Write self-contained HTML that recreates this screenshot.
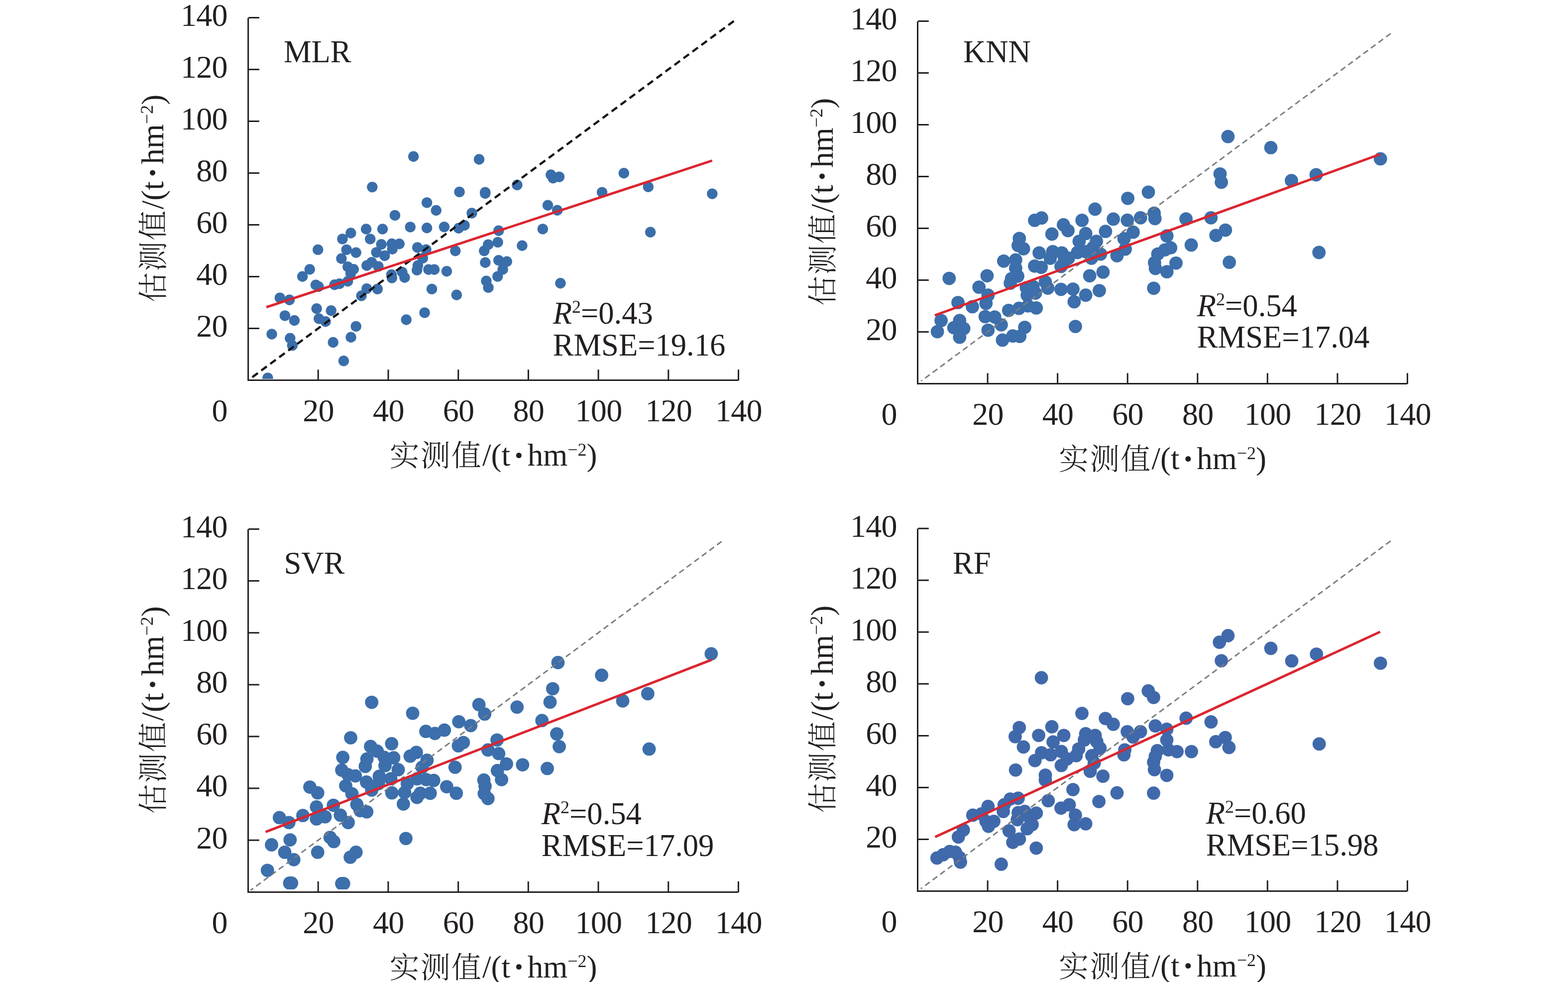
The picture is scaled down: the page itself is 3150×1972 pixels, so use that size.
<!DOCTYPE html>
<html lang="zh-CN">
<head>
<meta charset="utf-8">
<title>估测值与实测值散点图 MLR KNN SVR RF</title>
<style>
html,body{margin:0;padding:0;background:#fff;}
body{width:3150px;height:1972px;}
svg{display:block;}
text{font-family:"Liberation Serif","Noto Serif CJK SC",serif;font-size:63px;fill:#231f20;}
.tk{font-size:64px;letter-spacing:-0.7px;}
.st{font-size:62.6px;}
.cj{font-family:"Noto Serif CJK SC","Liberation Serif",serif;font-weight:300;font-size:60px;letter-spacing:2.2px;}
.ax{stroke:#231f20;stroke-width:3;fill:none;stroke-linecap:butt;stroke-linejoin:miter;}
.red{stroke:#db2530;stroke-width:4.9;fill:none;stroke-linecap:butt;}
.sup{font-size:36px;}
.it{font-style:italic;}
.bu{font-weight:bold;font-size:68px;}
</style>
</head>
<body>
<svg xmlns="http://www.w3.org/2000/svg" width="3150" height="1972" viewBox="0 0 3150 1972">
<rect x="0" y="0" width="3150" height="1972" fill="#ffffff"/>
<g id="panel-mlr">
<clipPath id="clip-mlr"><rect x="498.6" y="5.4" width="1024.9" height="755.5"/></clipPath>
<g fill="#3a6eaa" clip-path="url(#clip-mlr)">
<circle cx="830.6" cy="314.3" r="10.7"/>
<circle cx="747.8" cy="375.6" r="10.7"/>
<circle cx="857.6" cy="406.9" r="10.7"/>
<circle cx="876.2" cy="422.5" r="10.7"/>
<circle cx="793.4" cy="432.4" r="10.7"/>
<circle cx="824.2" cy="455.9" r="10.7"/>
<circle cx="857.6" cy="457.7" r="10.7"/>
<circle cx="892.4" cy="455.6" r="10.7"/>
<circle cx="735.6" cy="460" r="10.7"/>
<circle cx="768.5" cy="460" r="10.7"/>
<circle cx="704.8" cy="468" r="10.7"/>
<circle cx="687.9" cy="479.9" r="10.7"/>
<circle cx="743.7" cy="479.9" r="10.7"/>
<circle cx="766.1" cy="490.8" r="10.7"/>
<circle cx="787.3" cy="489.5" r="10.7"/>
<circle cx="802.2" cy="489.8" r="10.7"/>
<circle cx="788.1" cy="500.3" r="10.7"/>
<circle cx="756.1" cy="506.9" r="10.7"/>
<circle cx="772.7" cy="513.5" r="10.7"/>
<circle cx="838.6" cy="497" r="10.7"/>
<circle cx="856" cy="501.1" r="10.7"/>
<circle cx="849.3" cy="518.5" r="10.7"/>
<circle cx="638.7" cy="501.4" r="10.7"/>
<circle cx="696.2" cy="501.4" r="10.7"/>
<circle cx="715.2" cy="507.2" r="10.7"/>
<circle cx="685.9" cy="519.3" r="10.7"/>
<circle cx="537.9" cy="758.9" r="10.7"/>
<circle cx="546" cy="671" r="10.7"/>
<circle cx="582.8" cy="679.3" r="10.7"/>
<circle cx="587.3" cy="693.8" r="10.7"/>
<circle cx="572.4" cy="633.9" r="10.7"/>
<circle cx="591.4" cy="643.5" r="10.7"/>
<circle cx="562.3" cy="598.1" r="10.7"/>
<circle cx="581.5" cy="602.3" r="10.7"/>
<circle cx="607.6" cy="555.3" r="10.7"/>
<circle cx="622.2" cy="541" r="10.7"/>
<circle cx="636.1" cy="619.8" r="10.7"/>
<circle cx="665.2" cy="623.8" r="10.7"/>
<circle cx="640.7" cy="640" r="10.7"/>
<circle cx="654" cy="645.8" r="10.7"/>
<circle cx="634.4" cy="572.2" r="10.7"/>
<circle cx="639.9" cy="575.5" r="10.7"/>
<circle cx="672.2" cy="571.7" r="10.7"/>
<circle cx="682.1" cy="569.7" r="10.7"/>
<circle cx="698.7" cy="564.7" r="10.7"/>
<circle cx="669.2" cy="687.5" r="10.7"/>
<circle cx="705" cy="677.3" r="10.7"/>
<circle cx="715.2" cy="655.4" r="10.7"/>
<circle cx="690.4" cy="724.8" r="10.7"/>
<circle cx="726" cy="594" r="10.7"/>
<circle cx="736.8" cy="579.6" r="10.7"/>
<circle cx="758.3" cy="580.4" r="10.7"/>
<circle cx="816.2" cy="642" r="10.7"/>
<circle cx="853" cy="627.9" r="10.7"/>
<circle cx="867.5" cy="580.4" r="10.7"/>
<circle cx="698.7" cy="535.7" r="10.7"/>
<circle cx="710.3" cy="540.7" r="10.7"/>
<circle cx="704.5" cy="549" r="10.7"/>
<circle cx="736.8" cy="533.2" r="10.7"/>
<circle cx="746.7" cy="526.6" r="10.7"/>
<circle cx="759.9" cy="534.9" r="10.7"/>
<circle cx="786.4" cy="551.5" r="10.7"/>
<circle cx="787.3" cy="558.1" r="10.7"/>
<circle cx="807.9" cy="546.5" r="10.7"/>
<circle cx="812.9" cy="557.3" r="10.7"/>
<circle cx="839.4" cy="533.2" r="10.7"/>
<circle cx="837.7" cy="542.4" r="10.7"/>
<circle cx="860.9" cy="541.2" r="10.7"/>
<circle cx="872.5" cy="541.2" r="10.7"/>
<circle cx="897.4" cy="544.8" r="10.7"/>
<circle cx="921.4" cy="458.2" r="10.7"/>
<circle cx="933" cy="452.4" r="10.7"/>
<circle cx="1001.7" cy="463.2" r="10.7"/>
<circle cx="1090.3" cy="459.9" r="10.7"/>
<circle cx="1000" cy="486.4" r="10.7"/>
<circle cx="980.7" cy="491.3" r="10.7"/>
<circle cx="972.7" cy="503.7" r="10.7"/>
<circle cx="1048.9" cy="493.3" r="10.7"/>
<circle cx="914.8" cy="503.7" r="10.7"/>
<circle cx="974.9" cy="527.3" r="10.7"/>
<circle cx="1001.7" cy="522.8" r="10.7"/>
<circle cx="1018.2" cy="525.3" r="10.7"/>
<circle cx="1010" cy="541" r="10.7"/>
<circle cx="999.7" cy="555.1" r="10.7"/>
<circle cx="976.9" cy="564.2" r="10.7"/>
<circle cx="981" cy="577.4" r="10.7"/>
<circle cx="917.3" cy="592.3" r="10.7"/>
<circle cx="1125.9" cy="568.8" r="10.7"/>
<circle cx="962.5" cy="320" r="10.7"/>
<circle cx="923" cy="385.4" r="10.7"/>
<circle cx="974.7" cy="386.1" r="10.7"/>
<circle cx="974.7" cy="388.4" r="10.7"/>
<circle cx="1038.9" cy="371.4" r="10.7"/>
<circle cx="1106.8" cy="351" r="10.7"/>
<circle cx="1111" cy="357.6" r="10.7"/>
<circle cx="1123.4" cy="355.1" r="10.7"/>
<circle cx="1253.3" cy="347.7" r="10.7"/>
<circle cx="1209.5" cy="386.1" r="10.7"/>
<circle cx="1100.5" cy="412.3" r="10.7"/>
<circle cx="1119.6" cy="422.2" r="10.7"/>
<circle cx="947.9" cy="428" r="10.7"/>
<circle cx="1302.3" cy="375.2" r="10.7"/>
<circle cx="1430.8" cy="389.1" r="10.7"/>
<circle cx="1306.6" cy="466.2" r="10.7"/>
</g>
<line x1="1474.3" y1="42.2" x2="506.3" y2="757.8" stroke="#161415" stroke-width="4.4" stroke-dasharray="13.8 8.64"/>
<line class="red" x1="535.1" y1="616.8" x2="1430.7" y2="322.5"/>
<path class="ax" d="M498.6 35.9V763.5H1483M639.2 763.9v-21.7M499.1 659.5h21.8M780 763.9v-21.7M499.1 555.5h21.8M920.7 763.9v-21.7M499.1 451.5h21.8M1061.4 763.9v-21.7M499.1 347.4h21.8M1202.1 763.9v-21.7M499.1 243.4h21.8M1342.8 763.9v-21.7M499.1 139.4h21.8M1483.5 763.9v-21.7M499.1 35.4h21.8"/>
<text class="tk" x="456.9" y="675.8" text-anchor="end">20</text>
<text class="tk" x="639.6" y="846.1" text-anchor="middle">20</text>
<text class="tk" x="456.9" y="571.8" text-anchor="end">40</text>
<text class="tk" x="780.4" y="846.1" text-anchor="middle">40</text>
<text class="tk" x="456.9" y="467.8" text-anchor="end">60</text>
<text class="tk" x="921.1" y="846.1" text-anchor="middle">60</text>
<text class="tk" x="456.9" y="363.7" text-anchor="end">80</text>
<text class="tk" x="1061.8" y="846.1" text-anchor="middle">80</text>
<text class="tk" x="456.9" y="259.7" text-anchor="end">100</text>
<text class="tk" x="1202.5" y="846.1" text-anchor="middle">100</text>
<text class="tk" x="456.9" y="155.7" text-anchor="end">120</text>
<text class="tk" x="1343.2" y="846.1" text-anchor="middle">120</text>
<text class="tk" x="456.9" y="51.7" text-anchor="end">140</text>
<text class="tk" x="1483.9" y="846.1" text-anchor="middle">140</text>
<text class="tk" x="456.9" y="846.1" text-anchor="end">0</text>
<text x="991" y="936" text-anchor="middle"><tspan class="cj">实测值</tspan><tspan dy="-1">/(t</tspan><tspan class="bu" dx="6" dy="1.5">·</tspan><tspan dx="6" dy="-1.5">hm</tspan><tspan class="sup" dy="-20.5">−2</tspan><tspan dy="20.5">)</tspan></text>
<text transform="translate(328.6 398.4) rotate(-90)" text-anchor="middle"><tspan class="cj">估测值</tspan><tspan dy="-1">/(t</tspan><tspan class="bu" dx="6" dy="1.5">·</tspan><tspan dx="6" dy="-1.5">hm</tspan><tspan class="sup" dy="-20.5">−2</tspan><tspan dy="20.5">)</tspan></text>
<text class="st" x="569.9" y="124.9">MLR</text>
<text class="st" x="1110.7" y="649.9"><tspan class="it">R</tspan><tspan class="sup" dy="-22">2</tspan><tspan dy="22">=0.43</tspan></text>
<text class="st" x="1110.7" y="713.8">RMSE=19.16</text>
</g>
<g id="panel-knn">
<clipPath id="clip-knn"><rect x="1843.5" y="12.4" width="1023.9" height="755.5"/></clipPath>
<g fill="#3c6fab" clip-path="url(#clip-knn)">
<circle cx="1906.8" cy="559.1" r="13.4"/>
<circle cx="1883.1" cy="666.1" r="13.4"/>
<circle cx="1890.6" cy="643.7" r="13.4"/>
<circle cx="1924.5" cy="607.6" r="13.4"/>
<circle cx="1927.8" cy="643.7" r="13.4"/>
<circle cx="1916.2" cy="658.1" r="13.4"/>
<circle cx="1936.1" cy="659.8" r="13.4"/>
<circle cx="1927.8" cy="677.2" r="13.4"/>
<circle cx="1953.5" cy="615.9" r="13.4"/>
<circle cx="1966.7" cy="576.7" r="13.4"/>
<circle cx="1982.9" cy="553.8" r="13.4"/>
<circle cx="1984.9" cy="592.7" r="13.4"/>
<circle cx="1980.8" cy="609.3" r="13.4"/>
<circle cx="1979.1" cy="635.8" r="13.4"/>
<circle cx="1998.2" cy="636.6" r="13.4"/>
<circle cx="1984.9" cy="663.1" r="13.4"/>
<circle cx="2011.4" cy="652.3" r="13.4"/>
<circle cx="2013.9" cy="682.9" r="13.4"/>
<circle cx="2034.6" cy="674.7" r="13.4"/>
<circle cx="2048.7" cy="675.5" r="13.4"/>
<circle cx="2058.6" cy="657.3" r="13.4"/>
<circle cx="2026.3" cy="623.3" r="13.4"/>
<circle cx="2047" cy="619.2" r="13.4"/>
<circle cx="2065.2" cy="614.2" r="13.4"/>
<circle cx="2081.8" cy="618.4" r="13.4"/>
<circle cx="2032.1" cy="559.6" r="13.4"/>
<circle cx="2044.5" cy="554.6" r="13.4"/>
<circle cx="2029.6" cy="568.7" r="13.4"/>
<circle cx="2061.9" cy="577.8" r="13.4"/>
<circle cx="2075.2" cy="575.3" r="13.4"/>
<circle cx="2063.6" cy="592.7" r="13.4"/>
<circle cx="2080.1" cy="588.6" r="13.4"/>
<circle cx="2070.2" cy="586.1" r="13.4"/>
<circle cx="2100" cy="566.2" r="13.4"/>
<circle cx="2105" cy="578.6" r="13.4"/>
<circle cx="2131.5" cy="581.1" r="13.4"/>
<circle cx="2155.5" cy="580.6" r="13.4"/>
<circle cx="2157.9" cy="606" r="13.4"/>
<circle cx="2181.1" cy="592.7" r="13.4"/>
<circle cx="2208.4" cy="583.6" r="13.4"/>
<circle cx="2189.1" cy="553.8" r="13.4"/>
<circle cx="2215.9" cy="546.4" r="13.4"/>
<circle cx="2160.4" cy="655.6" r="13.4"/>
<circle cx="2138.1" cy="524.8" r="13.4"/>
<circle cx="2199.8" cy="420" r="13.4"/>
<circle cx="2078.5" cy="442.4" r="13.4"/>
<circle cx="2092.5" cy="437.7" r="13.4"/>
<circle cx="2173.7" cy="442.4" r="13.4"/>
<circle cx="2236.6" cy="439.9" r="13.4"/>
<circle cx="2136.4" cy="451.5" r="13.4"/>
<circle cx="2145.5" cy="463.1" r="13.4"/>
<circle cx="2113.2" cy="470" r="13.4"/>
<circle cx="2181.1" cy="468.9" r="13.4"/>
<circle cx="2220.9" cy="464.7" r="13.4"/>
<circle cx="2047.8" cy="478.8" r="13.4"/>
<circle cx="2045.4" cy="492.9" r="13.4"/>
<circle cx="2056.1" cy="499.5" r="13.4"/>
<circle cx="2167.9" cy="484.6" r="13.4"/>
<circle cx="2202.6" cy="484.6" r="13.4"/>
<circle cx="2196" cy="497" r="13.4"/>
<circle cx="2087.6" cy="507.8" r="13.4"/>
<circle cx="2114.9" cy="505.3" r="13.4"/>
<circle cx="2133.1" cy="507.8" r="13.4"/>
<circle cx="2164.6" cy="507" r="13.4"/>
<circle cx="2181.1" cy="505.3" r="13.4"/>
<circle cx="2109.9" cy="518.5" r="13.4"/>
<circle cx="2146.4" cy="518.5" r="13.4"/>
<circle cx="2210.9" cy="510.3" r="13.4"/>
<circle cx="2192.7" cy="518.5" r="13.4"/>
<circle cx="2016.4" cy="524.3" r="13.4"/>
<circle cx="2040.4" cy="521.9" r="13.4"/>
<circle cx="2040.4" cy="538.4" r="13.4"/>
<circle cx="2078.5" cy="534.3" r="13.4"/>
<circle cx="2091.7" cy="536.8" r="13.4"/>
<circle cx="2131.5" cy="535.1" r="13.4"/>
<circle cx="2244" cy="513.6" r="13.4"/>
<circle cx="2265.6" cy="398.3" r="13.4"/>
<circle cx="2264.8" cy="442.2" r="13.4"/>
<circle cx="2291.3" cy="437.3" r="13.4"/>
<circle cx="2318.6" cy="428.1" r="13.4"/>
<circle cx="2320.2" cy="438.9" r="13.4"/>
<circle cx="2382.6" cy="439.7" r="13.4"/>
<circle cx="2432.8" cy="437.3" r="13.4"/>
<circle cx="2276.4" cy="466.2" r="13.4"/>
<circle cx="2258.1" cy="479.5" r="13.4"/>
<circle cx="2461.8" cy="462.1" r="13.4"/>
<circle cx="2442.7" cy="472.8" r="13.4"/>
<circle cx="2344.2" cy="473.7" r="13.4"/>
<circle cx="2393.1" cy="491.9" r="13.4"/>
<circle cx="2260.6" cy="500.2" r="13.4"/>
<circle cx="2351.7" cy="497.7" r="13.4"/>
<circle cx="2340.1" cy="501.8" r="13.4"/>
<circle cx="2326" cy="510.1" r="13.4"/>
<circle cx="2319.4" cy="527.5" r="13.4"/>
<circle cx="2321.1" cy="539.1" r="13.4"/>
<circle cx="2362.5" cy="528.3" r="13.4"/>
<circle cx="2344.2" cy="545.7" r="13.4"/>
<circle cx="2317.7" cy="578.8" r="13.4"/>
<circle cx="2469.6" cy="526.7" r="13.4"/>
<circle cx="2466.9" cy="274.2" r="13.4"/>
<circle cx="2553" cy="296.4" r="13.4"/>
<circle cx="2773.2" cy="318.9" r="13.4"/>
<circle cx="2644" cy="351" r="13.4"/>
<circle cx="2594.4" cy="362.6" r="13.4"/>
<circle cx="2451" cy="349.3" r="13.4"/>
<circle cx="2453.6" cy="365.9" r="13.4"/>
<circle cx="2307" cy="385.8" r="13.4"/>
<circle cx="2649.7" cy="507" r="13.4"/>
</g>
<line x1="2793.7" y1="67.3" x2="1850.5" y2="765.2" stroke="#7a7c80" stroke-width="2.9" stroke-dasharray="11.5 7.384"/>
<line class="red" x1="1877.9" y1="633.2" x2="2772.6" y2="309.7"/>
<path class="ax" d="M1843.5 42.9V770.5H2827M1984.1 770.9v-21.7M1844 666.4h21.8M2124.6 770.9v-21.7M1844 562.4h21.8M2265.2 770.9v-21.7M1844 458.4h21.8M2405.8 770.9v-21.7M1844 354.4h21.8M2546.3 770.9v-21.7M1844 250.4h21.8M2686.9 770.9v-21.7M1844 146.4h21.8M2827.4 770.9v-21.7M1844 42.4h21.8"/>
<text class="tk" x="1801.9" y="682.7" text-anchor="end">20</text>
<text class="tk" x="1984.5" y="853.1" text-anchor="middle">20</text>
<text class="tk" x="1801.9" y="578.7" text-anchor="end">40</text>
<text class="tk" x="2125" y="853.1" text-anchor="middle">40</text>
<text class="tk" x="1801.9" y="474.7" text-anchor="end">60</text>
<text class="tk" x="2265.6" y="853.1" text-anchor="middle">60</text>
<text class="tk" x="1801.9" y="370.7" text-anchor="end">80</text>
<text class="tk" x="2406.2" y="853.1" text-anchor="middle">80</text>
<text class="tk" x="1801.9" y="266.7" text-anchor="end">100</text>
<text class="tk" x="2546.7" y="853.1" text-anchor="middle">100</text>
<text class="tk" x="1801.9" y="162.7" text-anchor="end">120</text>
<text class="tk" x="2687.3" y="853.1" text-anchor="middle">120</text>
<text class="tk" x="1801.9" y="58.7" text-anchor="end">140</text>
<text class="tk" x="2827.8" y="853.1" text-anchor="middle">140</text>
<text class="tk" x="1801.9" y="853.1" text-anchor="end">0</text>
<text x="2335.5" y="943" text-anchor="middle"><tspan class="cj">实测值</tspan><tspan dy="-1">/(t</tspan><tspan class="bu" dx="6" dy="1.5">·</tspan><tspan dx="6" dy="-1.5">hm</tspan><tspan class="sup" dy="-20.5">−2</tspan><tspan dy="20.5">)</tspan></text>
<text transform="translate(1673.5 405.4) rotate(-90)" text-anchor="middle"><tspan class="cj">估测值</tspan><tspan dy="-1">/(t</tspan><tspan class="bu" dx="6" dy="1.5">·</tspan><tspan dx="6" dy="-1.5">hm</tspan><tspan class="sup" dy="-20.5">−2</tspan><tspan dy="20.5">)</tspan></text>
<text class="st" x="1935" y="124.9">KNN</text>
<text class="st" x="2404.8" y="634.9"><tspan class="it">R</tspan><tspan class="sup" dy="-22">2</tspan><tspan dy="22">=0.54</tspan></text>
<text class="st" x="2404.8" y="698.3">RMSE=17.04</text>
</g>
<g id="panel-svr">
<clipPath id="clip-svr"><rect x="498.5" y="1032.5" width="1024.9" height="753.6"/></clipPath>
<g fill="#3c6fab" clip-path="url(#clip-svr)">
<circle cx="581.9" cy="1773.4" r="13.4"/>
<circle cx="585.7" cy="1773.4" r="13.4"/>
<circle cx="686.5" cy="1774.4" r="13.4"/>
<circle cx="690.3" cy="1774.4" r="13.4"/>
<circle cx="537.3" cy="1747.8" r="13.4"/>
<circle cx="545.5" cy="1696.5" r="13.4"/>
<circle cx="582.8" cy="1686.6" r="13.4"/>
<circle cx="572" cy="1711.4" r="13.4"/>
<circle cx="590.2" cy="1726.3" r="13.4"/>
<circle cx="638.2" cy="1711.4" r="13.4"/>
<circle cx="663.1" cy="1681.6" r="13.4"/>
<circle cx="670.5" cy="1689.9" r="13.4"/>
<circle cx="703.6" cy="1721.4" r="13.4"/>
<circle cx="715.2" cy="1711.4" r="13.4"/>
<circle cx="815.4" cy="1683.8" r="13.4"/>
<circle cx="561.3" cy="1641.9" r="13.4"/>
<circle cx="580.3" cy="1651.8" r="13.4"/>
<circle cx="608.4" cy="1637.7" r="13.4"/>
<circle cx="622.5" cy="1580.6" r="13.4"/>
<circle cx="638.2" cy="1592.2" r="13.4"/>
<circle cx="635.8" cy="1620.4" r="13.4"/>
<circle cx="635.8" cy="1644.4" r="13.4"/>
<circle cx="653.1" cy="1640.2" r="13.4"/>
<circle cx="669.7" cy="1617.1" r="13.4"/>
<circle cx="683.8" cy="1636.9" r="13.4"/>
<circle cx="699.5" cy="1651.8" r="13.4"/>
<circle cx="716.9" cy="1615.4" r="13.4"/>
<circle cx="723.5" cy="1627.8" r="13.4"/>
<circle cx="736.8" cy="1630.3" r="13.4"/>
<circle cx="810.4" cy="1614.6" r="13.4"/>
<circle cx="787.3" cy="1592.2" r="13.4"/>
<circle cx="707" cy="1593.9" r="13.4"/>
<circle cx="694.5" cy="1578.1" r="13.4"/>
<circle cx="746.7" cy="1586.4" r="13.4"/>
<circle cx="837.7" cy="1601.3" r="13.4"/>
<circle cx="844.4" cy="1593" r="13.4"/>
<circle cx="864.2" cy="1593" r="13.4"/>
<circle cx="812.9" cy="1591.4" r="13.4"/>
<circle cx="897.4" cy="1579.8" r="13.4"/>
<circle cx="746.7" cy="1410.3" r="13.4"/>
<circle cx="829" cy="1432.3" r="13.4"/>
<circle cx="921.7" cy="1449.3" r="13.4"/>
<circle cx="945.7" cy="1457.1" r="13.4"/>
<circle cx="855.5" cy="1468.7" r="13.4"/>
<circle cx="873.7" cy="1472.8" r="13.4"/>
<circle cx="892.7" cy="1466.2" r="13.4"/>
<circle cx="704.5" cy="1481.6" r="13.4"/>
<circle cx="786.8" cy="1493.5" r="13.4"/>
<circle cx="930.8" cy="1491.1" r="13.4"/>
<circle cx="920.9" cy="1497.7" r="13.4"/>
<circle cx="744.5" cy="1499" r="13.4"/>
<circle cx="757.8" cy="1508.4" r="13.4"/>
<circle cx="836.4" cy="1510.9" r="13.4"/>
<circle cx="824" cy="1518.4" r="13.4"/>
<circle cx="688.7" cy="1520.9" r="13.4"/>
<circle cx="737.1" cy="1524.2" r="13.4"/>
<circle cx="771.9" cy="1520.9" r="13.4"/>
<circle cx="790.9" cy="1521.7" r="13.4"/>
<circle cx="857.9" cy="1526.7" r="13.4"/>
<circle cx="733.8" cy="1539.1" r="13.4"/>
<circle cx="773.5" cy="1537.4" r="13.4"/>
<circle cx="800" cy="1545.7" r="13.4"/>
<circle cx="848" cy="1540.7" r="13.4"/>
<circle cx="914.2" cy="1540.7" r="13.4"/>
<circle cx="686.6" cy="1546.5" r="13.4"/>
<circle cx="699" cy="1555.6" r="13.4"/>
<circle cx="713.9" cy="1558.1" r="13.4"/>
<circle cx="761.9" cy="1558.9" r="13.4"/>
<circle cx="785.1" cy="1563.9" r="13.4"/>
<circle cx="736.3" cy="1570.5" r="13.4"/>
<circle cx="760.3" cy="1573.8" r="13.4"/>
<circle cx="838.1" cy="1563.9" r="13.4"/>
<circle cx="856.3" cy="1565.6" r="13.4"/>
<circle cx="871.2" cy="1567.2" r="13.4"/>
<circle cx="818.2" cy="1573.8" r="13.4"/>
<circle cx="916.7" cy="1592.9" r="13.4"/>
<circle cx="962.1" cy="1414.9" r="13.4"/>
<circle cx="973.7" cy="1433.9" r="13.4"/>
<circle cx="1038.7" cy="1419.9" r="13.4"/>
<circle cx="1105" cy="1409.9" r="13.4"/>
<circle cx="1251" cy="1407.5" r="13.4"/>
<circle cx="1088.7" cy="1446.9" r="13.4"/>
<circle cx="1118.5" cy="1473.7" r="13.4"/>
<circle cx="1123.5" cy="1499.3" r="13.4"/>
<circle cx="998.5" cy="1486.1" r="13.4"/>
<circle cx="980.3" cy="1506" r="13.4"/>
<circle cx="1001.8" cy="1513.4" r="13.4"/>
<circle cx="1017.5" cy="1534.1" r="13.4"/>
<circle cx="1049.8" cy="1535.8" r="13.4"/>
<circle cx="1099.5" cy="1543.2" r="13.4"/>
<circle cx="999.3" cy="1547.4" r="13.4"/>
<circle cx="1007.6" cy="1565.6" r="13.4"/>
<circle cx="972" cy="1566.4" r="13.4"/>
<circle cx="974.5" cy="1578.8" r="13.4"/>
<circle cx="972.8" cy="1593.7" r="13.4"/>
<circle cx="980.3" cy="1603.6" r="13.4"/>
<circle cx="1304" cy="1504.2" r="13.4"/>
<circle cx="1428.8" cy="1312.9" r="13.4"/>
<circle cx="1120.9" cy="1330.5" r="13.4"/>
<circle cx="1208.6" cy="1356" r="13.4"/>
<circle cx="1110.3" cy="1383.1" r="13.4"/>
<circle cx="1301.3" cy="1393" r="13.4"/>
</g>
<line x1="1449.6" y1="1087.4" x2="503.4" y2="1787.8" stroke="#7a7c80" stroke-width="2.9" stroke-dasharray="11.5 7.384"/>
<line class="red" x1="533.7" y1="1670.6" x2="1429.9" y2="1324.9"/>
<path class="ax" d="M498.5 1063V1791.4H1483M639.2 1791.8v-21.7M499 1687.3h21.8M779.9 1791.8v-21.7M499 1583.1h21.8M920.6 1791.8v-21.7M499 1479h21.8M1061.3 1791.8v-21.7M499 1374.9h21.8M1202 1791.8v-21.7M499 1270.7h21.8M1342.7 1791.8v-21.7M499 1166.6h21.8M1483.4 1791.8v-21.7M499 1062.5h21.8"/>
<text class="tk" x="456.9" y="1703.6" text-anchor="end">20</text>
<text class="tk" x="639.6" y="1874" text-anchor="middle">20</text>
<text class="tk" x="456.9" y="1599.4" text-anchor="end">40</text>
<text class="tk" x="780.3" y="1874" text-anchor="middle">40</text>
<text class="tk" x="456.9" y="1495.3" text-anchor="end">60</text>
<text class="tk" x="921" y="1874" text-anchor="middle">60</text>
<text class="tk" x="456.9" y="1391.2" text-anchor="end">80</text>
<text class="tk" x="1061.7" y="1874" text-anchor="middle">80</text>
<text class="tk" x="456.9" y="1287" text-anchor="end">100</text>
<text class="tk" x="1202.4" y="1874" text-anchor="middle">100</text>
<text class="tk" x="456.9" y="1182.9" text-anchor="end">120</text>
<text class="tk" x="1343.1" y="1874" text-anchor="middle">120</text>
<text class="tk" x="456.9" y="1078.8" text-anchor="end">140</text>
<text class="tk" x="1483.8" y="1874" text-anchor="middle">140</text>
<text class="tk" x="456.9" y="1874" text-anchor="end">0</text>
<text x="991" y="1963.9" text-anchor="middle"><tspan class="cj">实测值</tspan><tspan dy="-1">/(t</tspan><tspan class="bu" dx="6" dy="1.5">·</tspan><tspan dx="6" dy="-1.5">hm</tspan><tspan class="sup" dy="-20.5">−2</tspan><tspan dy="20.5">)</tspan></text>
<text transform="translate(328.5 1425.9) rotate(-90)" text-anchor="middle"><tspan class="cj">估测值</tspan><tspan dy="-1">/(t</tspan><tspan class="bu" dx="6" dy="1.5">·</tspan><tspan dx="6" dy="-1.5">hm</tspan><tspan class="sup" dy="-20.5">−2</tspan><tspan dy="20.5">)</tspan></text>
<text class="st" x="570.4" y="1151.9">SVR</text>
<text class="st" x="1087.8" y="1654.9"><tspan class="it">R</tspan><tspan class="sup" dy="-22">2</tspan><tspan dy="22">=0.54</tspan></text>
<text class="st" x="1087.8" y="1719.1">RMSE=17.09</text>
</g>
<g id="panel-rf">
<clipPath id="clip-rf"><rect x="1843.5" y="1031.3" width="1023.9" height="755.5"/></clipPath>
<g fill="#4069ab" clip-path="url(#clip-rf)">
<circle cx="1882.3" cy="1723" r="13.4"/>
<circle cx="1894.7" cy="1716.4" r="13.4"/>
<circle cx="1907.9" cy="1709.8" r="13.4"/>
<circle cx="1919.5" cy="1711.4" r="13.4"/>
<circle cx="1927.8" cy="1722.2" r="13.4"/>
<circle cx="1929.5" cy="1731.3" r="13.4"/>
<circle cx="2011.4" cy="1735.4" r="13.4"/>
<circle cx="2081.8" cy="1703.1" r="13.4"/>
<circle cx="1925.3" cy="1680.8" r="13.4"/>
<circle cx="1935.3" cy="1666.7" r="13.4"/>
<circle cx="1954.3" cy="1636.9" r="13.4"/>
<circle cx="1971.7" cy="1634.4" r="13.4"/>
<circle cx="1984.9" cy="1619.5" r="13.4"/>
<circle cx="1980.8" cy="1649.3" r="13.4"/>
<circle cx="1985.8" cy="1659.3" r="13.4"/>
<circle cx="1996.5" cy="1649.3" r="13.4"/>
<circle cx="2015.6" cy="1629.5" r="13.4"/>
<circle cx="2017.2" cy="1616.2" r="13.4"/>
<circle cx="2029.6" cy="1604.6" r="13.4"/>
<circle cx="2045.4" cy="1603" r="13.4"/>
<circle cx="2045.4" cy="1632" r="13.4"/>
<circle cx="2058.6" cy="1629.5" r="13.4"/>
<circle cx="2081.8" cy="1632.8" r="13.4"/>
<circle cx="2043.7" cy="1646" r="13.4"/>
<circle cx="2070.2" cy="1645.2" r="13.4"/>
<circle cx="2073.5" cy="1656" r="13.4"/>
<circle cx="2063.6" cy="1664.2" r="13.4"/>
<circle cx="2027.2" cy="1668.4" r="13.4"/>
<circle cx="2047.8" cy="1684.9" r="13.4"/>
<circle cx="2034.6" cy="1691.6" r="13.4"/>
<circle cx="2105.8" cy="1607.9" r="13.4"/>
<circle cx="2131.5" cy="1622.8" r="13.4"/>
<circle cx="2148" cy="1616.2" r="13.4"/>
<circle cx="2160.4" cy="1636.9" r="13.4"/>
<circle cx="2157.9" cy="1656" r="13.4"/>
<circle cx="2181.1" cy="1654.3" r="13.4"/>
<circle cx="2207.6" cy="1609.6" r="13.4"/>
<circle cx="2155.5" cy="1585.6" r="13.4"/>
<circle cx="2244" cy="1592.2" r="13.4"/>
<circle cx="2100" cy="1556.6" r="13.4"/>
<circle cx="2100" cy="1566.6" r="13.4"/>
<circle cx="2306.8" cy="1387.4" r="13.4"/>
<circle cx="2317.5" cy="1400.6" r="13.4"/>
<circle cx="2265.4" cy="1403.1" r="13.4"/>
<circle cx="2173.5" cy="1432.6" r="13.4"/>
<circle cx="2220.7" cy="1442.8" r="13.4"/>
<circle cx="2236.4" cy="1454.4" r="13.4"/>
<circle cx="2047.7" cy="1461.1" r="13.4"/>
<circle cx="2039.4" cy="1479.3" r="13.4"/>
<circle cx="2056" cy="1500" r="13.4"/>
<circle cx="2113.1" cy="1459.4" r="13.4"/>
<circle cx="2086.6" cy="1476.8" r="13.4"/>
<circle cx="2137.1" cy="1476.8" r="13.4"/>
<circle cx="2115.6" cy="1490" r="13.4"/>
<circle cx="2181" cy="1473.5" r="13.4"/>
<circle cx="2200" cy="1476.8" r="13.4"/>
<circle cx="2178.5" cy="1485.9" r="13.4"/>
<circle cx="2203.3" cy="1489.2" r="13.4"/>
<circle cx="2264.6" cy="1469.3" r="13.4"/>
<circle cx="2291.1" cy="1469.3" r="13.4"/>
<circle cx="2276.2" cy="1480.1" r="13.4"/>
<circle cx="2320.9" cy="1457.7" r="13.4"/>
<circle cx="2344" cy="1464.4" r="13.4"/>
<circle cx="2344" cy="1485.9" r="13.4"/>
<circle cx="2209.9" cy="1502.5" r="13.4"/>
<circle cx="2166.9" cy="1504.1" r="13.4"/>
<circle cx="2132.1" cy="1509.1" r="13.4"/>
<circle cx="2092.4" cy="1511.6" r="13.4"/>
<circle cx="2110.6" cy="1515.7" r="13.4"/>
<circle cx="2079.1" cy="1527.3" r="13.4"/>
<circle cx="2161.9" cy="1517.4" r="13.4"/>
<circle cx="2143.7" cy="1524" r="13.4"/>
<circle cx="2132.1" cy="1537.2" r="13.4"/>
<circle cx="2193.4" cy="1517.4" r="13.4"/>
<circle cx="2198.3" cy="1532.3" r="13.4"/>
<circle cx="2190.1" cy="1548.8" r="13.4"/>
<circle cx="2215.7" cy="1558.7" r="13.4"/>
<circle cx="2259.6" cy="1505.8" r="13.4"/>
<circle cx="2257.9" cy="1515.7" r="13.4"/>
<circle cx="2325" cy="1507.4" r="13.4"/>
<circle cx="2320.9" cy="1519" r="13.4"/>
<circle cx="2317.5" cy="1530.6" r="13.4"/>
<circle cx="2319.2" cy="1545.5" r="13.4"/>
<circle cx="2344" cy="1557.1" r="13.4"/>
<circle cx="2347.4" cy="1505.8" r="13.4"/>
<circle cx="2040.2" cy="1546.3" r="13.4"/>
<circle cx="2317.5" cy="1592.7" r="13.4"/>
<circle cx="2092.1" cy="1361" r="13.4"/>
<circle cx="2382.8" cy="1442.2" r="13.4"/>
<circle cx="2432.9" cy="1449.7" r="13.4"/>
<circle cx="2461.4" cy="1481.1" r="13.4"/>
<circle cx="2442.4" cy="1489.4" r="13.4"/>
<circle cx="2468.9" cy="1501" r="13.4"/>
<circle cx="2650.2" cy="1493.9" r="13.4"/>
<circle cx="2393.5" cy="1509.3" r="13.4"/>
<circle cx="2364.6" cy="1509.3" r="13.4"/>
<circle cx="2466.9" cy="1276.5" r="13.4"/>
<circle cx="2449.7" cy="1289.7" r="13.4"/>
<circle cx="2553" cy="1302" r="13.4"/>
<circle cx="2453.6" cy="1326.8" r="13.4"/>
<circle cx="2595" cy="1327.2" r="13.4"/>
<circle cx="2644.7" cy="1313.6" r="13.4"/>
<circle cx="2773.2" cy="1331.8" r="13.4"/>
</g>
<line x1="2793.7" y1="1086.3" x2="1849.8" y2="1784.7" stroke="#7a7c80" stroke-width="2.9" stroke-dasharray="11.5 7.384"/>
<line class="red" x1="1878.6" y1="1680.7" x2="2772.6" y2="1268.8"/>
<path class="ax" d="M1843.5 1061.8V1789.4H2827M1984.1 1789.8v-21.7M1844 1685.4h21.8M2124.6 1789.8v-21.7M1844 1581.4h21.8M2265.2 1789.8v-21.7M1844 1477.4h21.8M2405.8 1789.8v-21.7M1844 1373.3h21.8M2546.3 1789.8v-21.7M1844 1269.3h21.8M2686.9 1789.8v-21.7M1844 1165.3h21.8M2827.4 1789.8v-21.7M1844 1061.3h21.8"/>
<text class="tk" x="1801.9" y="1701.7" text-anchor="end">20</text>
<text class="tk" x="1984.5" y="1872" text-anchor="middle">20</text>
<text class="tk" x="1801.9" y="1597.7" text-anchor="end">40</text>
<text class="tk" x="2125" y="1872" text-anchor="middle">40</text>
<text class="tk" x="1801.9" y="1493.7" text-anchor="end">60</text>
<text class="tk" x="2265.6" y="1872" text-anchor="middle">60</text>
<text class="tk" x="1801.9" y="1389.6" text-anchor="end">80</text>
<text class="tk" x="2406.2" y="1872" text-anchor="middle">80</text>
<text class="tk" x="1801.9" y="1285.6" text-anchor="end">100</text>
<text class="tk" x="2546.7" y="1872" text-anchor="middle">100</text>
<text class="tk" x="1801.9" y="1181.6" text-anchor="end">120</text>
<text class="tk" x="2687.3" y="1872" text-anchor="middle">120</text>
<text class="tk" x="1801.9" y="1077.6" text-anchor="end">140</text>
<text class="tk" x="2827.8" y="1872" text-anchor="middle">140</text>
<text class="tk" x="1801.9" y="1872" text-anchor="end">0</text>
<text x="2335.5" y="1961.9" text-anchor="middle"><tspan class="cj">实测值</tspan><tspan dy="-1">/(t</tspan><tspan class="bu" dx="6" dy="1.5">·</tspan><tspan dx="6" dy="-1.5">hm</tspan><tspan class="sup" dy="-20.5">−2</tspan><tspan dy="20.5">)</tspan></text>
<text transform="translate(1673.5 1424.3) rotate(-90)" text-anchor="middle"><tspan class="cj">估测值</tspan><tspan dy="-1">/(t</tspan><tspan class="bu" dx="6" dy="1.5">·</tspan><tspan dx="6" dy="-1.5">hm</tspan><tspan class="sup" dy="-20.5">−2</tspan><tspan dy="20.5">)</tspan></text>
<text class="st" x="1914" y="1151.9">RF</text>
<text class="st" x="2422.8" y="1653.7"><tspan class="it">R</tspan><tspan class="sup" dy="-22">2</tspan><tspan dy="22">=0.60</tspan></text>
<text class="st" x="2422.8" y="1717.5">RMSE=15.98</text>
</g>
</svg>
</body>
</html>
